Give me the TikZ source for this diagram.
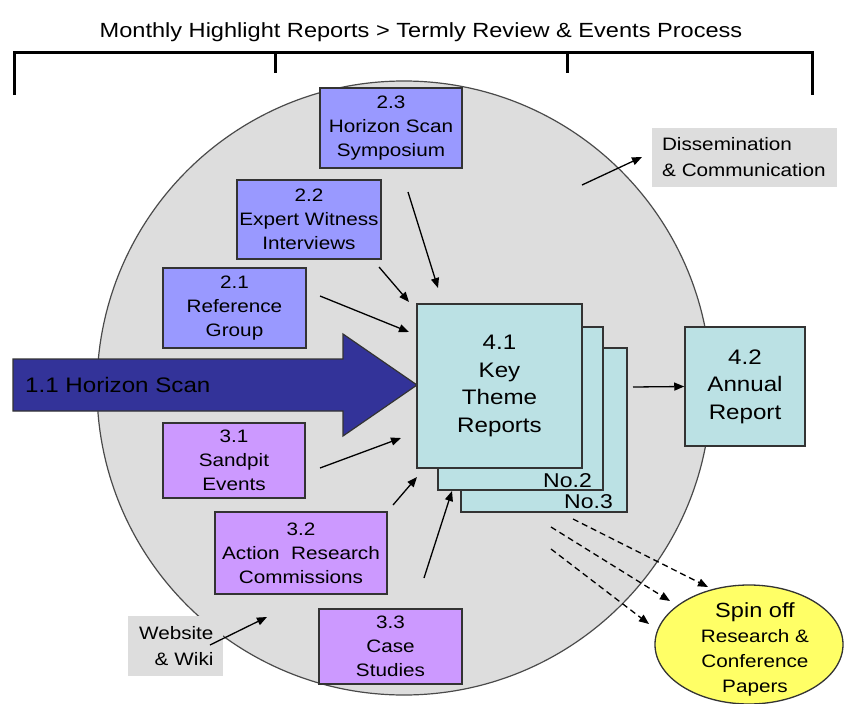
\documentclass[tikz,border=0pt]{standalone}
\usepackage{fontspec}
\setmainfont{Liberation Sans}[FakeStretch=1.15]
\usetikzlibrary{arrows.meta,shapes.geometric}

\definecolor{discgray}{HTML}{DDDDDD}
\definecolor{rimgray}{HTML}{4A4A4A}
\definecolor{periwinkle}{HTML}{9999FF}
\definecolor{lilac}{HTML}{CC99FF}
\definecolor{paleteal}{HTML}{BBE1E4}
\definecolor{indigo}{HTML}{333399}
\definecolor{lemon}{HTML}{FFFF66}
\definecolor{edgegray}{HTML}{333333}

\begin{document}
\begin{tikzpicture}[x=1pt,y=-1pt,
  box/.style={draw=edgegray, line width=1.5pt, align=center, inner sep=0pt,
    font=\fontsize{18}{24}\selectfont},
  inbox/.style={box, fill=periwinkle},
  eventbox/.style={box, fill=lilac},
  reportbox/.style={box, fill=paleteal, font=\fontsize{21}{27.5}\selectfont},
  notebox/.style={fill=discgray, inner ysep=0pt, font=\fontsize{18}{26}\selectfont},
  feed/.style={line width=1.3pt, -{Triangle[length=10pt,width=8pt]}},
  spinarrow/.style={feed, dash pattern=on 6pt off 4pt},
  bracketline/.style={line width=3pt}
]
\useasboundingbox (0,0) rectangle (847,704);

% programme disc
\node[circle, draw=rimgray, fill=discgray, line width=1.2pt, minimum size=614pt,
  inner sep=0pt] (disc) at (404,388) {};

% timeline bracket and heading
\node[font=\fontsize{20.5}{24}\selectfont] (title) at (421,32)
  {Monthly Highlight Reports > Termly Review \& Events Process};
\draw[bracketline] (14,95) -- (14,52) -- (812,52) -- (812,95);
\draw[bracketline] (275,52) -- (275,73);
\draw[bracketline] (567,52) -- (567,73);

% inputs
\node[inbox, minimum width=142pt, minimum height=80pt] (b23) at (391,128)
  {2.3\\Horizon Scan\\Symposium};
\node[inbox, minimum width=144pt, minimum height=79pt] (b22) at (309,219.5)
  {2.2\\Expert Witness\\Interviews};
\node[inbox, minimum width=143pt, minimum height=80pt] (b21) at (234.5,308)
  {2.1\\Reference\\Group};
\node[eventbox, minimum width=142pt, minimum height=75pt] (b31) at (234,460.5)
  {3.1\\Sandpit\\Events};
\node[eventbox, minimum width=172pt, minimum height=82pt] (b32) at (301,553)
  {3.2\\Action\ \ Research\\Commissions};
\node[eventbox, minimum width=143pt, minimum height=75pt] (b33) at (390.5,646.5)
  {3.3\\Case\\Studies};

% horizon scan arrow
\draw[fill=indigo, draw=edgegray, line width=1.2pt]
  (13,359) -- (343,359) -- (343,334) -- (417,385) -- (343,436) -- (343,411)
  -- (13,411) -- cycle;
\node[anchor=west, font=\fontsize{21}{24}\selectfont, inner sep=0pt] (hscan)
  at (25,385) {1.1 Horizon Scan};

% stacked theme reports
\node[reportbox, minimum width=166pt, minimum height=164pt] (card3) at (544,430) {};
\node[reportbox, minimum width=165pt, minimum height=163pt] (card2) at (520.5,408.5) {};
\node[reportbox, minimum width=165pt, minimum height=164pt] (kt) at (499.5,386)
  {4.1\\Key\\Theme\\Reports};
\node[anchor=base east, inner sep=0pt, font=\fontsize{20}{24}\selectfont] (no2)
  at (592,487) {No.2};
\node[anchor=base east, inner sep=0pt, font=\fontsize{20}{24}\selectfont] (no3)
  at (613,508.5) {No.3};

% annual report
\node[reportbox, minimum width=120pt, minimum height=119pt] (annual) at (745,386.5)
  {4.2\\Annual\\Report};

% outputs
\node[notebox, text width=165pt, inner xsep=10pt, minimum height=59pt, align=left]
  (dissem) at (744.5,157.5) {Dissemination\\\& Communication};
\node[notebox, text width=76pt, inner xsep=9.5pt, minimum height=60pt, align=right]
  (web) at (175.5,646) {Website\\\& Wiki};
\node[ellipse, draw=edgegray, fill=lemon, line width=1.3pt, minimum width=188pt,
  minimum height=119pt, inner sep=0pt] (spin) at (749,644.5) {};
\node[align=center, inner sep=0pt, font=\fontsize{18}{25}\selectfont] (spintext)
  at (755,649) {{\fontsize{20.5}{25}\selectfont Spin off}\\Research \&\\Conference\\Papers};

% connector end points
\coordinate (s23) at (408,192);  \coordinate (e23) at (438,288);
\coordinate (s22) at (379,267);  \coordinate (e22) at (409,302);
\coordinate (s21) at (320,296);  \coordinate (e21) at (409,332);
\coordinate (s31) at (320,468);  \coordinate (e31) at (401,438);
\coordinate (s32) at (393,505);  \coordinate (e32) at (417,477);
\coordinate (s33) at (424,578);  \coordinate (e33) at (452,491);
\coordinate (sweb) at (210,645); \coordinate (eweb) at (267,617);
\coordinate (sdis) at (582,185); \coordinate (edis) at (642,157);
\coordinate (sout) at (633,387);
\coordinate (d1s) at (573,519);  \coordinate (d1e) at (708,587);
\coordinate (d2s) at (551,527);  \coordinate (d2e) at (670,601);
\coordinate (d3s) at (551,549);  \coordinate (d3e) at (649,624);

\draw[feed] (s23) -- (e23);
\draw[feed] (s22) -- (e22);
\draw[feed] (s21) -- (e21);
\draw[feed] (s31) -- (e31);
\draw[feed] (s32) -- (e32);
\draw[feed] (s33) -- (e33);
\draw[feed] (sweb) -- (eweb);
\draw[feed] (sdis) -- (edis);
\draw[feed] (sout) -- (annual.west);
\draw[spinarrow] (d1s) -- (d1e);
\draw[spinarrow] (d2s) -- (d2e);
\draw[spinarrow] (d3s) -- (d3e);
\end{tikzpicture}
\end{document}
